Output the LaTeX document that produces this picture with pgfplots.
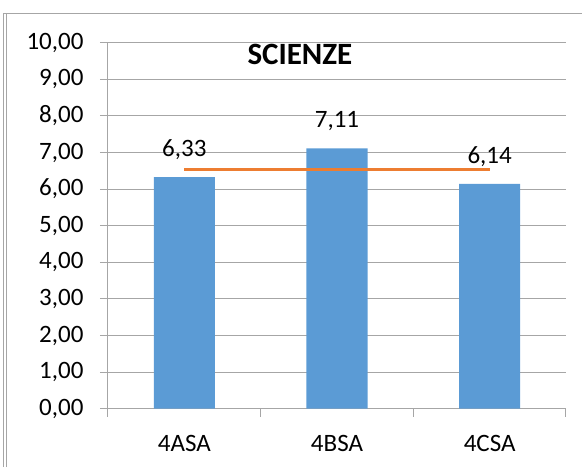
\documentclass[border=0pt]{standalone}
\usepackage{pgfplots}
\pgfplotsset{compat=1.18}
\usepackage{fontspec}
\setmainfont{Carlito}
\definecolor{barblue}{HTML}{5B9BD5}
\definecolor{lineorange}{HTML}{ED7D31}
\definecolor{gridgrey}{HTML}{A6A6A6}
\begin{document}
\begin{tikzpicture}[x=1pt,y=1pt]
\useasboundingbox (0,0) rectangle (582,-467);
\draw[gridgrey, line width=1pt] (3.3,-467) -- (3.3,-13) -- (582,-13);
\draw[gridgrey, line width=1pt] (6.7,-467) -- (6.7,-13);
\begin{axis}[
  at={(108pt,-408.7pt)}, anchor=south west,
  scale only axis, width=458pt, height=366pt,
  xmin=-0.5, xmax=2.5, ymin=0, ymax=10,
  axis x line=bottom, axis y line=left,
  axis line style={-, gridgrey, line width=1pt},
  ytick={0,1,...,10},
  ymajorgrids, major grid style={gridgrey, line width=1pt},
  xtick={-0.5,0.5,1.5,2.5}, xticklabels={,,,},
  extra x ticks={0,1,2}, extra x tick labels={4ASA,4BSA,4CSA},
  extra x tick style={major tick length=0pt},
  major tick length=8pt, tick align=outside,
  tick style={gridgrey, line width=1pt},
  tick label style={font=\fontsize{25}{30}\selectfont, text=black},
  yticklabel style={xshift=-13pt, /pgf/number format/.cd, fixed, fixed zerofill, precision=2, use comma, assume math mode=true},
  xticklabel style={yshift=-23pt},
  clip=false,
]
\addplot[ybar, bar width=0.4, fill=barblue, draw=none,
  nodes near coords={\pgfmathprintnumber[fixed,fixed zerofill,precision=2,use comma,assume math mode=true]{\pgfplotspointmeta}},
  every node near coord/.append style={font=\fontsize{25}{30}\selectfont, text=black, anchor=center, yshift=27pt}]
  coordinates {(0,6.33) (1,7.11) (2,6.14)};
\addplot[lineorange, line width=3pt, no marks] coordinates {(0,6.53) (1,6.53) (2,6.53)};
\node[font=\fontsize{31}{36}\selectfont\bfseries, anchor=center] at (rel axis cs:0.419,0.968) {SCIENZE};
\end{axis}
\end{tikzpicture}
\end{document}
